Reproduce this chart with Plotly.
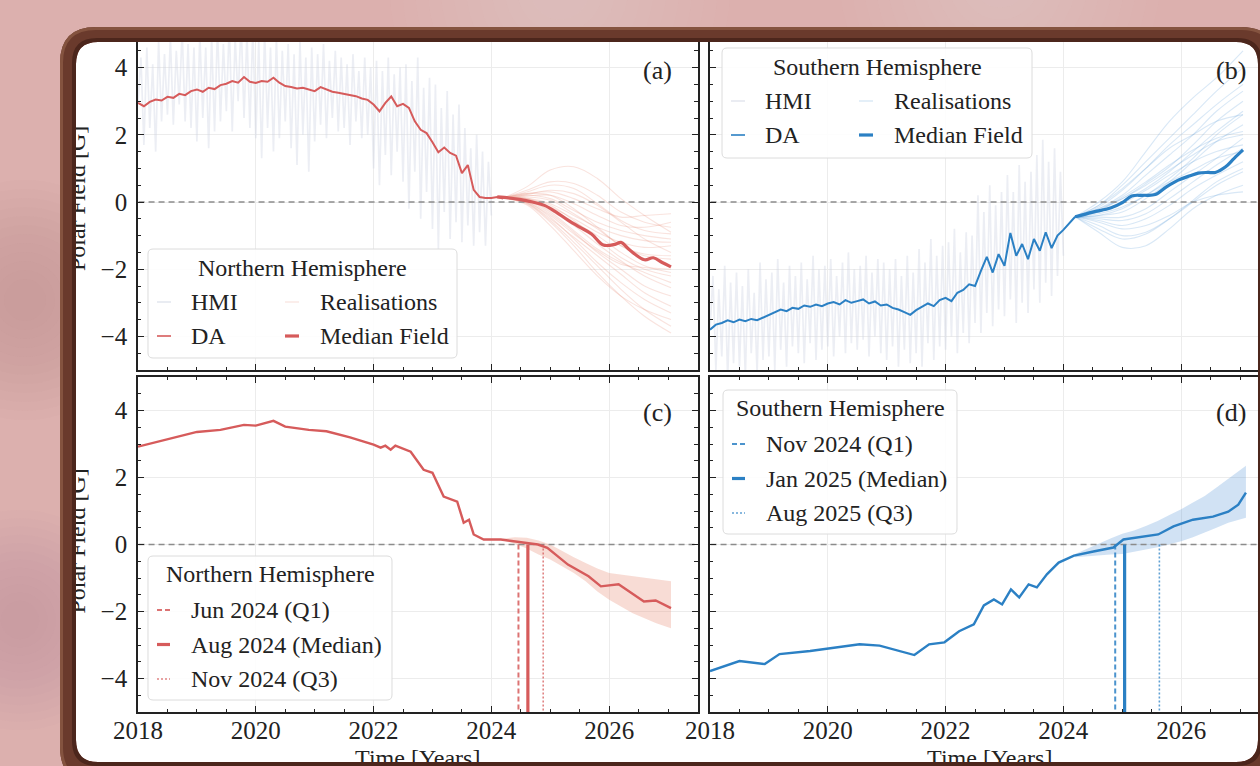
import plotly.graph_objects as go

W, H = 1260, 766
SERIF = "Liberation Serif"
INK = "#222222"
RED = "#d65b5b"
BLUE = "#2b80c4"
PINK = "#dcb0ae"

# ---------------- data ----------------
YEAR0 = 2018.0
HMI_STEP = 0.05          # HMI samples, 2018.00 .. 2024.00
hmi_north = [
    3.0, 4.3, 1.7, 4.6, 2.2, 4.1, 1.5, 4.8, 2.4, 4.4,
    2.6, 4.9, 2.3, 4.5, 2.9, 5.1, 2.4, 4.7, 2.2, 4.6,
    1.8, 5.0, 2.5, 4.6, 1.6, 4.9, 2.1, 5.2, 2.4, 4.7,
    2.7, 5.3, 2.1, 4.9, 3.0, 5.4, 2.5, 5.0, 2.2, 5.2,
    1.9, 4.8, 1.3, 5.1, 2.2, 4.6, 1.5, 4.9, 1.9, 4.5,
    2.4, 4.7, 1.6, 4.4, 1.1, 4.8, 2.0, 4.3, 0.9, 4.6,
    1.8, 4.4, 2.3, 4.7, 1.9, 4.2, 2.5, 4.5, 2.1, 4.3,
    2.2, 4.1, 1.7, 4.4, 2.4, 3.9, 1.9, 4.3, 2.0, 4.0,
    1.0, 4.2, 0.5, 3.9, 1.4, 4.3, 0.8, 3.8, 1.5, 4.0,
    0.6, 4.1, -0.2, 3.6, 0.9, 4.3, -0.5, 3.4, 0.3, 3.7,
    -0.8, 3.5, -1.4, 2.8, -0.3, 3.3, -1.1, 2.6, -0.6, 2.9,
    -1.2, 2.2, -0.7, 1.6, -1.3, 2.0, -0.9, 1.5, -1.3, 1.2,
    -0.4,
]
hmi_south = [
    -3.8, -2.2, -5.0, -2.6, -4.6, -1.9, -5.3, -2.4, -4.8, -2.1,
    -4.9, -2.5, -5.2, -2.0, -4.5, -2.7, -5.1, -1.8, -4.7, -2.3,
    -4.6, -2.1, -5.0, -1.7, -4.4, -2.4, -4.9, -1.9, -4.3, -2.2,
    -4.5, -1.8, -4.8, -2.3, -4.2, -1.6, -4.7, -2.0, -4.4, -1.9,
    -4.3, -1.7, -4.6, -2.2, -4.0, -1.8, -4.5, -1.5, -4.2, -2.0,
    -4.4, -1.9, -4.1, -1.6, -4.6, -2.1, -4.0, -1.7, -4.5, -1.8,
    -4.7, -2.0, -4.3, -1.7, -4.9, -2.2, -4.4, -1.6, -4.8, -2.1,
    -4.5, -1.4, -4.9, -1.8, -4.2, -1.1, -4.7, -1.6, -4.3, -1.3,
    -4.4, -1.2, -4.0, -0.8, -4.5, -1.5, -3.9, -0.9, -4.2, -1.0,
    -3.6, 0.2, -3.9, -0.3, -3.3, 0.5, -3.7, -0.1, -3.2, 0.3,
    -3.4, 0.8, -2.9, 0.3, -3.6, 1.1, -3.0, 0.6, -3.3, 0.9,
    -2.6, 1.4, -3.0, 1.85, -2.4, 1.2, -2.8, 1.6, -2.2, 0.9,
    -1.6,
]

DA_STEP = 0.1            # data-assimilation fields, 2018.0 .. 2024.2
da_north = [
    2.95, 2.85, 2.98, 3.05, 3.02, 3.13, 3.10, 3.22, 3.18, 3.30,
    3.35, 3.28, 3.40, 3.36, 3.48, 3.52, 3.60, 3.55, 3.72, 3.58,
    3.54, 3.60, 3.58, 3.70, 3.55, 3.45, 3.42, 3.38, 3.40, 3.34,
    3.30, 3.42, 3.35, 3.28, 3.25, 3.22, 3.18, 3.15, 3.08, 3.04,
    2.90, 2.70, 2.95, 3.14, 2.85, 2.92, 2.80, 2.40, 2.15, 2.05,
    1.78, 1.48, 1.62, 1.46, 1.38, 0.86, 1.10, 0.36, 0.15, 0.12,
    0.12, 0.15, 0.10,
]
da_south = [
    -3.80, -3.65, -3.60, -3.52, -3.58, -3.50, -3.55, -3.48, -3.52, -3.44,
    -3.35, -3.28, -3.20, -3.25, -3.15, -3.18, -3.08, -3.12, -3.05, -3.10,
    -3.02, -2.98, -3.05, -2.92, -3.00, -2.95, -2.90, -3.02, -2.96, -3.08,
    -3.05, -3.15, -3.20, -3.28, -3.36, -3.22, -3.12, -3.02, -3.10, -2.92,
    -2.85, -2.95, -2.70, -2.62, -2.45, -2.50, -2.05, -1.63, -2.10, -1.55,
    -1.90, -0.92, -1.60, -1.25, -1.70, -1.10, -1.45, -0.90, -1.37, -1.00,
    -0.83, -0.62, -0.44,
]

# median of the forecast realisations (panels a, b)
field_north_t = [2024.1, 2024.3, 2024.5, 2024.7, 2024.9, 2025.1, 2025.3, 2025.5, 2025.7,
                 2025.9, 2026.1, 2026.2, 2026.35, 2026.6, 2026.75, 2026.9, 2027.05]
field_north = [0.15, 0.12, 0.07, 0.0, -0.1, -0.3, -0.54, -0.75, -0.95,
               -1.28, -1.26, -1.2, -1.43, -1.72, -1.66, -1.8, -1.93]
field_south_t = [2024.2, 2024.5, 2024.8, 2025.0, 2025.16, 2025.35, 2025.56, 2025.75,
                 2025.95, 2026.15, 2026.29, 2026.45, 2026.58, 2026.75, 2026.9, 2027.05]
field_south = [-0.44, -0.3, -0.18, -0.02, 0.18, 0.2, 0.22, 0.45,
               0.65, 0.78, 0.86, 0.88, 0.88, 1.04, 1.3, 1.55]

# forecast realisations
real_t = [2024.2, 2024.6, 2025.0, 2025.4, 2025.8, 2026.2, 2026.6, 2027.05]
real_north = [
    [0.12, 0.45, 0.95, 1.05, 0.7, 0.1, -0.4, -0.9],
    [0.12, 0.35, 0.6, 0.55, 0.2, -0.3, -0.6, -0.75],
    [0.12, 0.25, 0.3, 0.1, -0.2, -0.45, -0.4, -0.35],
    [0.12, 0.2, 0.1, -0.25, -0.6, -0.85, -1.0, -1.1],
    [0.12, 0.1, -0.15, -0.5, -0.9, -1.2, -1.35, -1.3],
    [0.12, 0.05, -0.3, -0.85, -1.4, -1.8, -2.1, -2.4],
    [0.12, 0.0, -0.45, -1.1, -1.8, -2.4, -2.9, -3.3],
    [0.12, -0.05, -0.6, -1.3, -2.1, -2.8, -3.4, -3.9],
    [0.12, 0.08, -0.2, -0.6, -1.0, -1.5, -1.9, -2.1],
    [0.12, 0.15, 0.05, -0.35, -0.8, -1.3, -1.6, -1.7],
    [0.12, 0.02, -0.35, -0.9, -1.5, -2.0, -2.5, -2.8],
    [0.12, 0.22, 0.35, 0.25, -0.1, -0.6, -1.1, -1.5],
    [0.12, -0.02, -0.5, -1.05, -1.6, -2.15, -2.7, -3.1],
    [0.12, 0.12, -0.05, -0.4, -0.75, -1.0, -1.15, -1.2],
    [0.12, 0.3, 0.5, 0.4, -0.05, -0.55, -0.85, -0.95],
    [0.12, 0.05, -0.25, -0.7, -1.25, -1.75, -2.2, -2.55],
    [0.12, -0.08, -0.7, -1.45, -2.2, -2.8, -3.2, -3.5],
    [0.12, 0.18, 0.2, -0.05, -0.4, -0.7, -0.75, -0.6],
    [0.12, 0.1, -0.1, -0.55, -1.1, -1.65, -2.0, -2.2],
    [0.12, 0.0, -0.4, -0.95, -1.45, -1.85, -1.95, -2.0],
    [0.12, 0.25, 0.2, -0.2, -0.75, -1.3, -1.55, -1.6],
    [0.12, -0.03, -0.55, -1.2, -1.9, -2.6, -3.2, -3.7],
]
real_south = [
    [-0.44, -0.1, 0.5, 1.2, 1.9, 2.6, 3.3, 4.0],
    [-0.44, 0.0, 0.6, 1.5, 2.4, 3.1, 3.7, 4.5],
    [-0.44, -0.2, 0.2, 0.8, 1.4, 2.0, 2.7, 3.3],
    [-0.44, -0.4, -0.3, 0.1, 0.6, 1.2, 1.8, 2.3],
    [-0.44, -0.7, -1.0, -0.9, -0.5, 0.0, 0.5, 0.9],
    [-0.44, -0.9, -1.35, -1.3, -0.8, -0.2, 0.2, 0.5],
    [-0.44, -0.6, -0.8, -0.7, -0.4, 0.0, 0.2, 0.3],
    [-0.44, -0.3, 0.0, 0.4, 0.9, 1.5, 2.1, 2.7],
    [-0.44, -0.5, -0.55, -0.35, 0.1, 0.6, 1.1, 1.6],
    [-0.44, -0.25, 0.15, 0.6, 1.1, 1.55, 1.9, 2.1],
    [-0.44, -0.35, -0.15, 0.2, 0.7, 1.3, 2.0, 2.6],
    [-0.44, -0.15, 0.35, 1.0, 1.7, 2.3, 2.9, 3.5],
    [-0.44, -0.55, -0.7, -0.5, -0.1, 0.4, 0.8, 1.2],
    [-0.44, -0.4, -0.2, 0.2, 0.6, 0.95, 1.3, 1.5],
    [-0.44, -0.2, 0.1, 0.5, 0.95, 1.4, 1.8, 2.0],
    [-0.44, -0.8, -1.1, -0.95, -0.5, 0.05, 0.6, 1.0],
    [-0.44, -0.3, -0.05, 0.35, 0.8, 1.2, 1.5, 1.7],
    [-0.44, -0.1, 0.4, 1.0, 1.6, 2.0, 2.4, 2.6],
    [-0.44, -0.45, -0.45, -0.2, 0.3, 0.8, 1.3, 1.9],
    [-0.44, -0.25, 0.1, 0.55, 1.05, 1.7, 2.4, 3.0],
]

# combined median field (panels c, d)
median_north_t = [2018.0, 2018.3, 2018.6, 2019.0, 2019.4, 2019.8, 2020.0, 2020.3, 2020.5, 2020.9,
                  2021.2, 2021.6, 2022.0, 2022.12, 2022.2, 2022.29, 2022.37, 2022.63, 2022.85, 2023.0,
                  2023.19, 2023.42, 2023.53, 2023.62, 2023.7, 2023.87, 2024.16, 2024.5, 2024.79, 2024.95,
                  2025.3, 2025.65, 2025.86, 2026.16, 2026.37, 2026.59, 2026.79, 2027.05]
median_north = [2.92, 3.05, 3.2, 3.36, 3.42, 3.57, 3.55, 3.69, 3.52, 3.42,
                3.38, 3.2, 2.98, 2.89, 2.95, 2.83, 2.95, 2.77, 2.23, 2.14,
                1.43, 1.28, 0.65, 0.74, 0.3, 0.15, 0.15, 0.06, 0.0, -0.1,
                -0.6, -0.95, -1.25, -1.19, -1.43, -1.7, -1.67, -1.9]
median_south_t = [2018.0, 2018.5, 2018.93, 2019.18, 2019.7, 2020.2, 2020.54, 2020.88, 2021.2, 2021.47,
                  2021.72, 2021.98, 2022.23, 2022.48, 2022.65, 2022.82, 2022.96, 2023.11, 2023.25, 2023.41,
                  2023.55, 2023.72, 2023.92, 2024.18, 2024.51, 2024.85, 2025.02, 2025.27, 2025.61, 2025.87,
                  2026.2, 2026.54, 2026.8, 2026.97, 2027.1]
median_south = [-3.78, -3.48, -3.57, -3.27, -3.18, -3.07, -2.98, -3.02, -3.18, -3.3,
                -2.98, -2.92, -2.59, -2.38, -1.82, -1.64, -1.79, -1.34, -1.58, -1.19,
                -1.28, -0.89, -0.54, -0.33, -0.21, -0.09, 0.15, 0.21, 0.3, 0.54,
                0.74, 0.83, 0.98, 1.19, 1.55]

# interquartile range of the realisations
band_north_t = [2024.2, 2024.4, 2024.6, 2024.8, 2025.0, 2025.2, 2025.4, 2025.6,
                2025.8, 2026.0, 2026.2, 2026.4, 2026.6, 2026.8, 2027.05]
band_north_hi = [0.17, 0.22, 0.2, 0.12, 0.0, -0.2, -0.38, -0.55, -0.72, -0.85, -0.9, -0.95, -1.0, -1.05, -1.1]
band_north_lo = [0.12, 0.02, -0.12, -0.3, -0.45, -0.65, -0.85, -1.1, -1.4, -1.65, -1.85, -2.05, -2.2, -2.35, -2.5]
band_south_t = [2024.2, 2024.4, 2024.6, 2024.8, 2025.0, 2025.2, 2025.4, 2025.6,
                2025.8, 2026.0, 2026.2, 2026.4, 2026.6, 2026.8, 2027.1]
band_south_hi = [-0.28, -0.12, 0.02, 0.18, 0.32, 0.42, 0.55, 0.7, 0.88, 1.05, 1.25, 1.45, 1.7, 1.95, 2.35]
band_south_lo = [-0.38, -0.35, -0.32, -0.3, -0.28, -0.22, -0.15, -0.08, 0.0, 0.1, 0.22, 0.35, 0.5, 0.65, 0.8]

# predicted polarity reversal dates (Q1, median, Q3)
rev_north = [2024.46, 2024.62, 2024.88]
rev_north_labels = ["Jun 2024 (Q1)", "Aug 2024 (Median)", "Nov 2024 (Q3)"]
rev_south = [2024.88, 2025.04, 2025.63]
rev_south_labels = ["Nov 2024 (Q1)", "Jan 2025 (Median)", "Aug 2025 (Q3)"]

panel_tags = ["(a)", "(b)", "(c)", "(d)"]

# ---------------- geometry (pixels) ----------------
COL_L = (138, 697.5)
COL_R = (710, 1260)
ROW_T = (34, 370)
ROW_B = (377, 712)
X_RANGE_L = [2018, 2027.5]
PX_PER_YR = (COL_L[1] - COL_L[0]) / (X_RANGE_L[1] - X_RANGE_L[0])
X_RANGE_R = [2018, 2018 + (COL_R[1] - COL_R[0]) / PX_PER_YR]
Y_RANGE = [-5, 5]


def fx(p):
    return p / W


def fy(p):
    return 1 - p / H


def xdom(c):
    return [fx(c[0]), fx(c[1])]


def ydom(r):
    return [fy(r[1]), fy(r[0])]


hmi_t = [YEAR0 + HMI_STEP * i for i in range(len(hmi_north))]
da_t = [YEAR0 + DA_STEP * i for i in range(len(da_north))]

fig = go.Figure()


def add(tr, panel):
    xa, ya = {"a": ("x", "y"), "b": ("x2", "y2"), "c": ("x3", "y3"), "d": ("x4", "y4")}[panel]
    tr.update(xaxis=xa, yaxis=ya, showlegend=False, hoverinfo="skip")
    fig.add_trace(tr)


def zero_line(panel):
    add(go.Scatter(x=[2017.5, 2028.5], y=[0, 0], mode="lines",
                   line=dict(color="#8c8c8c", width=1.6, dash="6px,4px")), panel)


HMI_COLOR = "rgba(204,210,226,0.38)"

# panel (a): northern hemisphere
add(go.Scatter(x=hmi_t, y=hmi_north, mode="lines", line=dict(color=HMI_COLOR, width=1.7)), "a")
for r in real_north:
    add(go.Scatter(x=real_t, y=r, mode="lines", line=dict(color="rgba(232,140,118,0.24)", width=1.1, shape="spline")), "a")
zero_line("a")
add(go.Scatter(x=da_t, y=da_north, mode="lines", line=dict(color=RED, width=2)), "a")
add(go.Scatter(x=field_north_t, y=field_north, mode="lines", line=dict(color=RED, width=3.2, shape="spline")), "a")

# panel (b): southern hemisphere
add(go.Scatter(x=hmi_t, y=hmi_south, mode="lines", line=dict(color=HMI_COLOR, width=1.7)), "b")
for r in real_south:
    add(go.Scatter(x=real_t, y=r, mode="lines", line=dict(color="rgba(80,150,212,0.22)", width=1.1, shape="spline")), "b")
zero_line("b")
add(go.Scatter(x=da_t, y=da_south, mode="lines", line=dict(color=BLUE, width=2)), "b")
add(go.Scatter(x=field_south_t, y=field_south, mode="lines", line=dict(color=BLUE, width=3.2, shape="spline")), "b")

# panel (c): northern median with IQR and reversal dates
add(go.Scatter(x=band_north_t + band_north_t[::-1], y=band_north_hi + band_north_lo[::-1], mode="lines",
               fill="toself", fillcolor="rgba(234,150,128,0.33)", line=dict(width=0)), "c")
zero_line("c")
add(go.Scatter(x=median_north_t, y=median_north, mode="lines", line=dict(color=RED, width=2.4)), "c")
# panel (d): southern median with IQR and reversal dates
add(go.Scatter(x=band_south_t + band_south_t[::-1], y=band_south_hi + band_south_lo[::-1], mode="lines",
               fill="toself", fillcolor="rgba(88,152,214,0.28)", line=dict(width=0)), "d")
zero_line("d")
add(go.Scatter(x=median_south_t, y=median_south, mode="lines", line=dict(color=BLUE, width=2.4)), "d")

REV_STYLES = [dict(dash="5px,3px", width=2, alpha=0.85),
              dict(dash="solid", width=3.2, alpha=1.0),
              dict(dash="2px,2px", width=1.6, alpha=0.75)]
RED_RGB = "214,91,91"
BLUE_RGB = "43,128,196"
for t, st in zip(rev_north, REV_STYLES):
    add(go.Scatter(x=[t, t], y=[0, -5.5], mode="lines",
                   line=dict(color=f"rgba({RED_RGB},{st['alpha']})", width=st["width"], dash=st["dash"])), "c")
for t, st in zip(rev_south, REV_STYLES):
    add(go.Scatter(x=[t, t], y=[0, -5.5], mode="lines",
                   line=dict(color=f"rgba({BLUE_RGB},{st['alpha']})", width=st["width"], dash=st["dash"])), "d")

# carriers for the axis titles, which are drawn as tick labels of helper axes
# so that the frame can overlap them
for xa, ya in (("x", "y5"), ("x3", "y6"), ("x5", "y3"), ("x6", "y4")):
    fig.add_trace(go.Scatter(x=[2018], y=[50], mode="lines", xaxis=xa, yaxis=ya,
                             showlegend=False, hoverinfo="skip"))

# ---------------- axes ----------------
TICK_FONT = dict(family=SERIF, size=25, color=INK)
TITLE_FONT = dict(family=SERIF, size=24, color=INK)
x_mid = (X_RANGE_L[0] + X_RANGE_L[1]) / 2


def xaxis(col, rng, anchor, labels):
    return dict(domain=xdom(col), range=rng, anchor=anchor, showline=True, linecolor=INK, linewidth=1.6,
                mirror="ticks", ticks="inside", ticklen=6, tickwidth=1.4, tickcolor=INK,
                tick0=2018, dtick=2, showticklabels=labels, tickfont=TICK_FONT, ticklabelstandoff=-5,
                showgrid=True, gridcolor="#ececec", gridwidth=1, zeroline=False, fixedrange=True,
                automargin=False,
                minor=dict(ticks="inside", ticklen=3.5, tickwidth=1.2, tickcolor=INK, tick0=2018, dtick=0.5,
                           showgrid=False))


def yaxis(row, anchor, labels, mirror):
    return dict(domain=ydom(row), range=Y_RANGE, anchor=anchor, showline=True, linecolor=INK, linewidth=1.6,
                mirror="ticks" if mirror else False, ticks="inside", ticklen=6, tickwidth=1.4, tickcolor=INK,
                tick0=0, dtick=2, showticklabels=labels, tickfont=TICK_FONT, ticklabelstandoff=4,
                showgrid=True, gridcolor="#ececec", gridwidth=1, zeroline=False, fixedrange=True,
                automargin=False,
                minor=dict(ticks="inside", ticklen=3.5, tickwidth=1.2, tickcolor=INK, tick0=0, dtick=0.5,
                           showgrid=False))


def ytitle_axis(over):
    return dict(overlaying=over, anchor="free", position=fx(90), side="left", range=Y_RANGE,
                tickmode="array", tickvals=[0], ticktext=["Polar Field [G]"], tickangle=-90,
                showline=False, ticks="", showgrid=False, zeroline=False, tickfont=TITLE_FONT,
                fixedrange=True, automargin=False)


def xtitle_axis(over, rng):
    return dict(overlaying=over, anchor="free", position=fy(741), side="bottom", range=rng,
                tickmode="array", tickvals=[x_mid], ticktext=["Time [Years]"],
                showline=False, ticks="", showgrid=False, zeroline=False, tickfont=TITLE_FONT,
                fixedrange=True, automargin=False)


fig.update_layout(
    width=W, height=H, margin=dict(l=0, r=0, t=0, b=0, autoexpand=False),
    paper_bgcolor=PINK, plot_bgcolor="white", showlegend=False,
    xaxis=xaxis(COL_L, X_RANGE_L, "y", False),
    yaxis=yaxis(ROW_T, "x", True, True),
    xaxis2=xaxis(COL_R, X_RANGE_R, "y2", False),
    yaxis2=yaxis(ROW_T, "x2", False, False),
    xaxis3=xaxis(COL_L, X_RANGE_L, "y3", True),
    yaxis3=yaxis(ROW_B, "x3", True, True),
    xaxis4=xaxis(COL_R, X_RANGE_R, "y4", True),
    yaxis4=yaxis(ROW_B, "x4", False, False),
    yaxis5=ytitle_axis("y"),
    yaxis6=ytitle_axis("y3"),
    xaxis5=xtitle_axis("x3", X_RANGE_L),
    xaxis6=xtitle_axis("x4", X_RANGE_R),
)


# ---------------- shapes & annotations ----------------
def rr(x0, y0, x1, y1, r):
    def p(x, y):
        return f"{fx(x):.5f},{fy(y):.5f}"
    return (f"M{p(x0 + r, y0)} L{p(x1 - r, y0)} Q{p(x1, y0)} {p(x1, y0 + r)} "
            f"L{p(x1, y1 - r)} Q{p(x1, y1)} {p(x1 - r, y1)} L{p(x0 + r, y1)} "
            f"Q{p(x0, y1)} {p(x0, y1 - r)} L{p(x0, y0 + r)} Q{p(x0, y0)} {p(x0 + r, y0)} Z")


shapes = []
annotations = []

# soft tonal patches in the backdrop (many faint stacked discs give a smooth falloff)
for cx, cy, rad, rgb in [(25, 300, 120, "190,140,150"),
                         (20, 620, 110, "196,146,152"),
                         (560, -10, 170, "240,206,204"),
                         (1000, -20, 160, "236,200,198")]:
    for k in range(12):
        rk = rad * (1 - 0.075 * k)
        shapes.append(dict(type="circle", xref="paper", yref="paper", layer="below",
                           x0=fx(cx - rk), x1=fx(cx + rk), y0=fy(cy + rk), y1=fy(cy - rk),
                           fillcolor=f"rgba({rgb},0.045)", line=dict(width=0)))

# white card behind the figure
shapes.append(dict(type="path", xref="paper", yref="paper", layer="below",
                   path=rr(76, 42, 1258, 762, 22), fillcolor="white", line=dict(width=0)))


def legend_box(x0, y0, x1, y1):
    shapes.append(dict(type="path", xref="paper", yref="paper", layer="above", path=rr(x0, y0, x1, y1, 5),
                       fillcolor="rgba(255,255,255,0.9)", line=dict(color="#dcdcdc", width=1)))


def legend_sample(x0, x1, y, color, width, dash="solid"):
    shapes.append(dict(type="line", xref="paper", yref="paper", layer="above",
                       x0=fx(x0), x1=fx(x1), y0=fy(y), y1=fy(y), line=dict(color=color, width=width, dash=dash)))


def text(x, y, s, anchor="left", size=24):
    annotations.append(dict(x=fx(x), y=fy(y), xref="paper", yref="paper", text=s, showarrow=False,
                            xanchor=anchor, yanchor="middle", font=dict(family=SERIF, size=size, color=INK)))


def two_column_legend(x0, y0, x1, y1, title, color, faint_real):
    legend_box(x0, y0, x1, y1)
    text((x0 + x1) / 2, y0 + 19, title, "center")
    r1, r2 = y0 + 53, y0 + 87
    legend_sample(x0 + 9, x0 + 23, r1, "rgba(196,203,220,0.6)", 1.2)
    text(x0 + 41, r1, "HMI")
    legend_sample(x0 + 137, x0 + 151, r1, faint_real, 1.2)
    text(x0 + 170, r1, "Realisations")
    legend_sample(x0 + 9, x0 + 23, r2, color, 1.6)
    text(x0 + 41, r2, "DA")
    legend_sample(x0 + 137, x0 + 151, r2, color, 3.2)
    text(x0 + 170, r2, "Median Field")


def date_legend(x0, y0, x1, y1, title, rgb, labels):
    legend_box(x0, y0, x1, y1)
    text((x0 + x1) / 2, y0 + 18, title, "center")
    for i, (lab, st) in enumerate(zip(labels, REV_STYLES)):
        yy = y0 + 54 + 34.5 * i
        legend_sample(x0 + 9, x0 + 22, yy, f"rgba({rgb},{st['alpha']})", st["width"], st["dash"])
        text(x0 + 41, yy, lab)


two_column_legend(148, 249, 457, 358, "Northern Hemisphere", RED, "rgba(232,140,118,0.25)")
two_column_legend(722, 48, 1032, 158, "Southern Hemisphere", BLUE, "rgba(80,150,212,0.25)")
date_legend(148, 556, 392, 700, "Northern Hemisphere", RED_RGB, rev_north_labels)
date_legend(723, 390, 957, 534, "Southern Hemisphere", BLUE_RGB, rev_south_labels)

# panel tags
for tag, (x, y) in zip(panel_tags, [(674, 70), (1248, 70), (674, 412), (1248, 412)]):
    text(x, y, tag, "right", size=26)

# wooden frame around the card
OUT = (60, 27, 1277, 783, 36)
IN = (76, 42, 1258, 762, 22)
shapes.append(dict(type="path", xref="paper", yref="paper", layer="above", fillrule="evenodd",
                   path=rr(*OUT) + " " + rr(*IN), fillcolor="#6a3a2c", line=dict(width=0)))
shapes.append(dict(type="path", xref="paper", yref="paper", layer="above", fillrule="evenodd",
                   path=rr(*OUT) + " " + rr(63, 30, 1274, 780, 33), fillcolor="#84533f", line=dict(width=0)))
shapes.append(dict(type="path", xref="paper", yref="paper", layer="above", fillrule="evenodd",
                   path=rr(72, 38, 1262, 766, 25) + " " + rr(*IN), fillcolor="#4c261c", line=dict(width=0)))

fig.update_layout(shapes=shapes, annotations=annotations)
fig.write_html("out.html")
